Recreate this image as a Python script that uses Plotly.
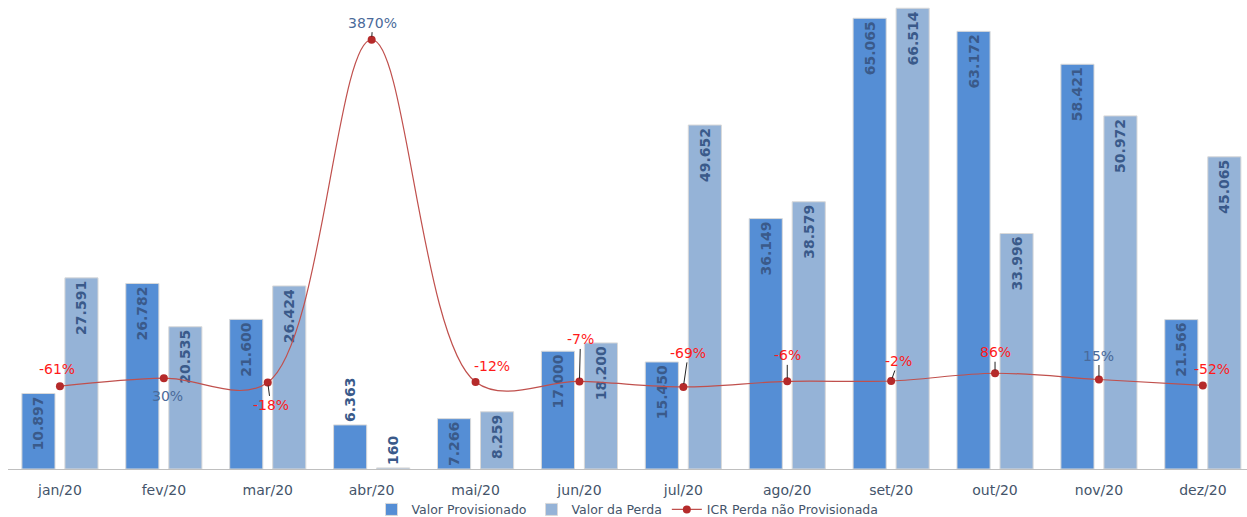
import plotly.graph_objects as go

months = ["jan/20", "fev/20", "mar/20", "abr/20", "mai/20", "jun/20",
          "jul/20", "ago/20", "set/20", "out/20", "nov/20", "dez/20"]
valor_provisionado = [10897, 26782, 21600, 6363, 7266, 17000,
                      15450, 36149, 65065, 63172, 58421, 21566]
valor_perda = [27591, 20535, 26424, 160, 8259, 18200,
               49652, 38579, 66514, 33996, 50972, 45065]
icr_pct = [-61, 30, -18, 3870, -12, -7, -69, -6, -2, 86, 15, -52]

# styling for line labels (offset of label from point in px, colour, leader line)
lbl_dx = [-3, 4, 3, 1, 16, 1, 5, 0, 7, 0, 0, 9]
lbl_dy = [-17, 18, 23, -17, -16, -42, -34, -26, -20, -21, -24, -16]
lbl_color = ["#FF1A1A", "#4A6A9A", "#FF1A1A", "#4A6A9A", "#FF1A1A", "#FF1A1A",
             "#FF1A1A", "#FF1A1A", "#FF1A1A", "#FF1A1A", "#4A6A9A", "#FF1A1A"]
lbl_leader = [False, False, True, True, False, True, True, True, True, True, True, False]


def fmt(v):
    return f"{v:,}".replace(",", ".")


DARK = "#558ED5"
LIGHT = "#95B3D7"
LBL = "#3A5A8A"
AXT = "#44546A"
FONT = "DejaVu Sans"

fig = go.Figure()

fig.add_trace(go.Bar(
    name="Valor Provisionado", x=months, y=valor_provisionado,
    text=[fmt(v) for v in valor_provisionado],
    textposition=["inside" if v > 7000 else "outside" for v in valor_provisionado],
    insidetextanchor="end", textangle=-90, constraintext="none",
    textfont=dict(family=FONT, size=14, color=LBL, weight="bold"),
    marker=dict(color=DARK, line=dict(color="#D9D9D9", width=1)),
    cliponaxis=False,
))
fig.add_trace(go.Bar(
    name="Valor da Perda", x=months, y=valor_perda,
    text=[fmt(v) for v in valor_perda],
    textposition=["inside" if v > 7000 else "outside" for v in valor_perda],
    insidetextanchor="end", textangle=-90, constraintext="none",
    textfont=dict(family=FONT, size=14, color=LBL, weight="bold"),
    marker=dict(color=LIGHT, line=dict(color="#D9D9D9", width=1)),
    cliponaxis=False,
))
fig.add_trace(go.Scatter(
    name="ICR Perda não Provisionada", x=months, y=icr_pct, yaxis="y2",
    mode="lines+markers",
    line=dict(color="#C0504D", width=1.2, shape="spline", smoothing=1.0),
    marker=dict(color="#B52A2A", size=8),
    cliponaxis=False,
))

annotations = []
for i, m in enumerate(months):
    a = dict(x=m, y=icr_pct[i], xref="x", yref="y2",
             text=f"{icr_pct[i]}%",
             font=dict(family=FONT, size=14, color=lbl_color[i]))
    if lbl_leader[i]:
        a.update(showarrow=True, ax=lbl_dx[i], ay=lbl_dy[i], arrowhead=0,
                 arrowwidth=1, arrowcolor="#222222", standoff=3)
    else:
        a.update(showarrow=False, xshift=lbl_dx[i], yshift=-lbl_dy[i])
    annotations.append(a)

fig.update_layout(
    width=1247, height=517,
    margin=dict(l=8, r=0, t=0, b=48, autoexpand=False),
    paper_bgcolor="white", plot_bgcolor="white",
    barmode="group", bargap=0.172, bargroupgap=0.23,
    font=dict(family=FONT, size=13, color=AXT),
    showlegend=True,
    legend=dict(orientation="h", x=0.5, xanchor="center", y=-0.087, yanchor="middle",
                font=dict(family=FONT, size=12.5, color=AXT),
                bgcolor="rgba(0,0,0,0)", borderwidth=0,
                itemwidth=30, tracegroupgap=0),
    xaxis=dict(type="category", range=[-0.5, 11.425], showgrid=False,
               showline=True, linecolor="#BFBFBF", linewidth=1,
               ticks="outside", ticklen=8, tickcolor="rgba(0,0,0,0)",
               tickfont=dict(family=FONT, size=14, color=AXT)),
    yaxis=dict(range=[0, 67700], visible=False, showgrid=False),
    yaxis2=dict(range=[-1000, 4320], overlaying="y", side="right",
                visible=False, showgrid=False),
    annotations=annotations,
)

fig.write_html("out.html")
